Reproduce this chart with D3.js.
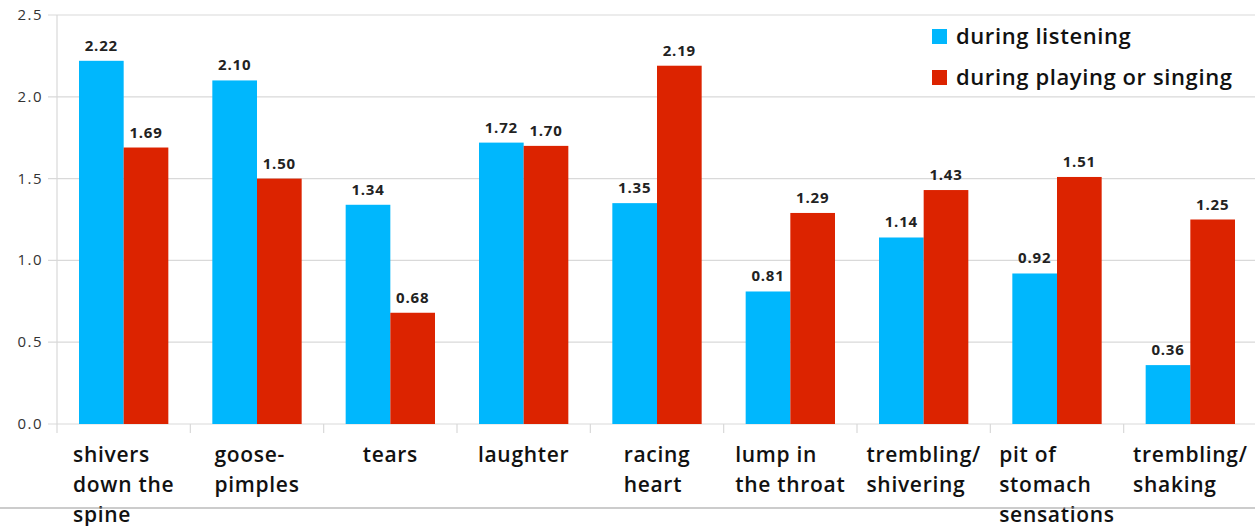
<!DOCTYPE html>
<html>
<head>
<meta charset="utf-8">
<script src="https://cdn.jsdelivr.net/npm/d3@7"></script>
<style>
  body { margin: 0; background: #fff; }
  svg { display: block; font-family: "Open Sans", Lato, sans-serif; }
</style>
</head>
<body>
<div id="main"></div>
<script>
const ctx = {
    CHART_WIDTH: 1255,
    CHART_HEIGHT: 526,
    BLUE: "#00b7fd",
    RED: "#dc2300"
};

const margin = {top: 15, right: -2, bottom: 102, left: 57};

// data
const categories = [
    ["shivers", "down the", "spine"],
    ["goose-", "pimples"],
    ["tears"],
    ["laughter"],
    ["racing", "heart"],
    ["lump in", "the throat"],
    ["trembling/", "shivering"],
    ["pit of", "stomach", "sensations"],
    ["trembling/", "shaking"]
];
const seriesNames = ["during listening", "during playing or singing"];
const listening = [2.22, 2.10, 1.34, 1.72, 1.35, 0.81, 1.14, 0.92, 0.36];
const playing = [1.69, 1.50, 0.68, 1.70, 2.19, 1.29, 1.43, 1.51, 1.25];
const yTicks = [0, 0.5, 1.0, 1.5, 2.0, 2.5];

function createViz() {
    const svg = d3.select("#main").append("svg")
        .attr("width", ctx.CHART_WIDTH)
        .attr("height", ctx.CHART_HEIGHT);

    const plotW = ctx.CHART_WIDTH - margin.left - margin.right;
    const plotH = ctx.CHART_HEIGHT - margin.top - margin.bottom;

    const g = svg.append("g").attr("transform", `translate(${margin.left},${margin.top})`);

    const x0 = d3.scaleBand().domain(d3.range(categories.length)).range([0, plotW]);
    const x1 = d3.scaleBand().domain([0, 1]).range([22, x0.bandwidth() - 22]);
    const y = d3.scaleLinear().domain([0, 2.5]).range([plotH, 0]);
    const colors = [ctx.BLUE, ctx.RED];

    // grid lines + left ticks
    g.selectAll(".grid").data(yTicks).enter().append("line")
        .attr("x1", -9).attr("x2", plotW)
        .attr("y1", d => y(d)).attr("y2", d => y(d))
        .attr("stroke", "#d9d9d9").attr("stroke-width", 1.2);

    // y axis line
    g.append("line").attr("x1", 0).attr("x2", 0).attr("y1", 0).attr("y2", plotH)
        .attr("stroke", "#d9d9d9").attr("stroke-width", 1.2);
    g.append("line").attr("x1", plotW - 1).attr("x2", plotW - 1).attr("y1", 0).attr("y2", plotH)
        .attr("stroke", "#e6e6e6").attr("stroke-width", 1);

    // x ticks between categories
    g.selectAll(".xtick").data(d3.range(categories.length + 1)).enter().append("line")
        .attr("x1", d => d * x0.step()).attr("x2", d => d * x0.step())
        .attr("y1", plotH).attr("y2", plotH + 9)
        .attr("stroke", "#d9d9d9").attr("stroke-width", 1.2);

    // y tick labels
    g.selectAll(".ylab").data(yTicks).enter().append("text")
        .attr("x", -14).attr("y", d => y(d) + 5)
        .attr("text-anchor", "end")
        .attr("font-size", 15).attr("letter-spacing", 1.5).attr("fill", "#333")
        .text(d => d.toFixed(1));

    // bars
    const series = [listening, playing];
    series.forEach((vals, s) => {
        g.selectAll(".bar" + s).data(vals).enter().append("rect")
            .attr("x", (d, i) => x0(i) + x1(s))
            .attr("y", d => y(d))
            .attr("width", x1.bandwidth())
            .attr("height", d => plotH - y(d))
            .attr("fill", colors[s]);

        g.selectAll(".val" + s).data(vals).enter().append("text")
            .attr("x", (d, i) => x0(i) + x1(s) + x1.bandwidth() / 2)
            .attr("y", d => y(d) - 10)
            .attr("text-anchor", "middle")
            .attr("font-size", 15).attr("font-weight", 700).attr("letter-spacing", 0.8)
            .attr("fill", "#222")
            .text(d => d.toFixed(2));
    });

    // category labels: block centered, lines left aligned
    categories.forEach((lines, i) => {
        const t = g.append("text")
            .attr("font-size", 21).attr("font-weight", 600).attr("letter-spacing", 0.7)
            .attr("fill", "#111");
        lines.forEach((line, j) => {
            t.append("tspan").attr("x", 0).attr("y", plotH + 38 + j * 30).text(line);
        });
        let maxW = 0;
        t.selectAll("tspan").each(function () {
            maxW = Math.max(maxW, this.getComputedTextLength());
        });
        t.selectAll("tspan").attr("x", x0(i) + x0.bandwidth() / 2 - maxW / 2);
    });

    // legend
    const leg = svg.append("g").attr("transform", "translate(932,29)");
    seriesNames.forEach((name, i) => {
        leg.append("rect").attr("x", 0).attr("y", i * 41).attr("width", 15).attr("height", 15)
            .attr("fill", colors[i]);
        leg.append("text").attr("x", 24).attr("y", i * 41 + 15)
            .attr("font-size", 22).attr("font-weight", 600).attr("letter-spacing", 0.6)
            .attr("fill", "#111")
            .text(name);
    });

    // bottom frame line
    svg.append("line").attr("x1", 0).attr("x2", ctx.CHART_WIDTH)
        .attr("y1", 508).attr("y2", 508)
        .attr("stroke", "#999").attr("stroke-width", 1.2);
}

createViz();
</script>
</body>
</html>
